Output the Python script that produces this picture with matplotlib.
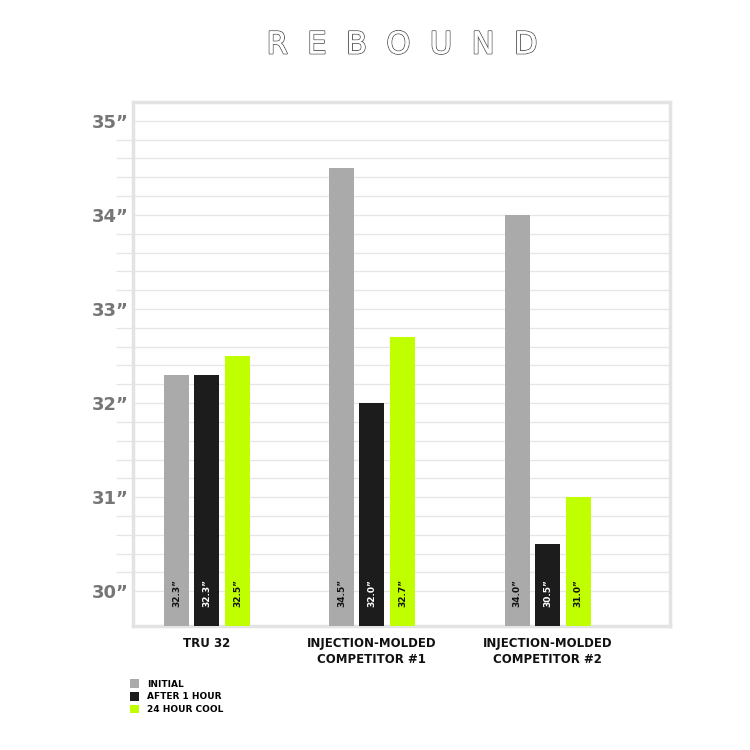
import numpy as np
import matplotlib.pyplot as plt
import matplotlib.patheffects as pe
from matplotlib.patches import Patch

categories = ['TRU 32', 'INJECTION-MOLDED\nCOMPETITOR #1', 'INJECTION-MOLDED\nCOMPETITOR #2']
series = ['INITIAL', 'AFTER 1 HOUR', '24 HOUR COOL']
initial = [32.3, 34.5, 34.0]
after_1h = [32.3, 32.0, 30.5]
cool_24h = [32.5, 32.7, 31.0]
yticks = [30, 31, 32, 33, 34, 35]

colors = ['#aaaaaa', '#1c1c1c', '#bfff00']
text_colors = ['#111111', 'white', '#111111']
values = [initial, after_1h, cool_24h]

fig = plt.figure(figsize=(7.5, 7.5), dpi=100)
ax = fig.add_axes([0.1773, 0.1653, 0.716, 0.6987])

group_x = np.array([0.0, 1.0, 2.065])
width = 0.152
step = 0.185
base = 29.0

for i, (vals, c, tc) in enumerate(zip(values, colors, text_colors)):
    xs = group_x + (i - 1) * step
    ax.bar(xs, np.array(vals) - base, bottom=base, width=width, color=c, zorder=3)
    for x, v in zip(xs, vals):
        ax.text(x, 29.83, f'{v:.1f}\u201d', rotation=90, ha='center', va='bottom',
                color=tc, fontsize=6.5, fontweight='bold', zorder=4)

ax.set_xlim(-0.448, 2.806)
ax.set_ylim(29.63, 35.2)

# light grid every 0.2, short ticks outside between the whole inches
grid_y = np.round(np.arange(30, 35.01, 0.2), 1)
for y in grid_y:
    ax.axhline(y, color='#e6e6e6', lw=0.9, zorder=1)
ax.set_yticks([y for y in grid_y if y % 1 != 0], minor=True)
ax.set_yticks(yticks)
ax.set_yticklabels([f'{t}\u201d' for t in yticks], fontsize=13, fontweight='bold', color='#767676')
ax.tick_params(axis='y', which='minor', length=12, color='#e6e6e6', width=0.9)
ax.tick_params(axis='y', which='major', length=0, pad=3)

ax.set_xticks(group_x)
ax.set_xticklabels(categories, fontsize=8.5, fontweight='bold', color='#111111', linespacing=1.3)
ax.tick_params(axis='x', length=0, pad=8)

for s in ax.spines.values():
    s.set_color('#e3e3e3')
    s.set_linewidth(2.5)

title = fig.text(0.536, 0.94, 'R  E  B  O  U  N  D', ha='center', va='center', fontsize=22,
                 color='white', family='DejaVu Sans')
title.set_path_effects([pe.withStroke(linewidth=1.3, foreground='#555555'), pe.Normal()])

handles = [Patch(facecolor=c, edgecolor='none') for c in colors]
fig.legend(handles, series, loc='upper left', bbox_to_anchor=(0.163, 0.105), frameon=False,
           handlelength=1.0, handleheight=1.1, handletextpad=0.8, labelspacing=0.35,
           prop={'size': 6.5, 'weight': 'bold'})

fig.savefig('out.png', dpi=100)
